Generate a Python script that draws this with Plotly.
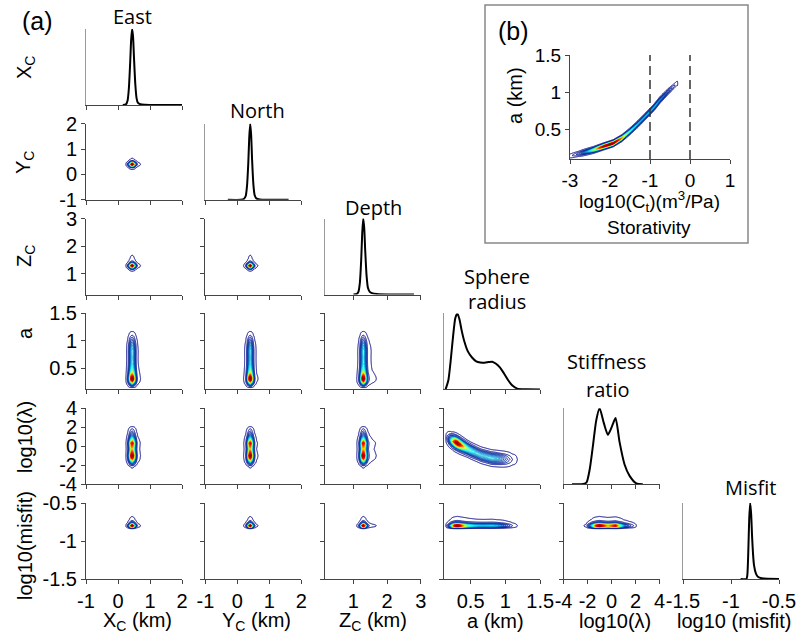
import numpy as np
import plotly.graph_objects as go

# ---------------- values ----------------
# marginal posterior densities (normalised to peak = 1)
east_x = [0.15, 0.25, 0.30, 0.34, 0.38, 0.41, 0.44, 0.47, 0.50, 0.54, 0.58, 0.62, 0.70, 0.85, 1.2, 2.0]
east_p = [0, 0.01, 0.06, 0.22, 0.55, 0.85, 1.0, 0.9, 0.62, 0.28, 0.09, 0.03, 0.01, 0.004, 0, 0]

north_x = [-0.3, 0.1, 0.2, 0.26, 0.30, 0.34, 0.37, 0.40, 0.43, 0.46, 0.50, 0.54, 0.60, 0.7, 1.0, 1.6]
north_p = [0, 0, 0.01, 0.05, 0.18, 0.48, 0.82, 1.0, 0.85, 0.52, 0.2, 0.06, 0.015, 0.003, 0, 0]

depth_x = [1.0, 1.1, 1.15, 1.19, 1.23, 1.26, 1.29, 1.32, 1.35, 1.39, 1.43, 1.48, 1.55, 1.7, 2.0, 2.8]
depth_p = [0, 0.01, 0.04, 0.15, 0.45, 0.8, 1.0, 0.88, 0.58, 0.25, 0.09, 0.04, 0.02, 0.008, 0.002, 0]

radius_x = [0.14, 0.18, 0.21, 0.25, 0.28, 0.31, 0.34, 0.37, 0.41, 0.46, 0.52, 0.58, 0.64, 0.70,
            0.76, 0.81, 0.86, 0.92, 0.98, 1.04, 1.10, 1.17, 1.3, 1.5]
radius_p = [0, 0.12, 0.35, 0.72, 0.94, 1.0, 0.92, 0.78, 0.63, 0.5, 0.42, 0.37, 0.355, 0.35,
            0.36, 0.365, 0.34, 0.29, 0.21, 0.12, 0.05, 0.01, 0.002, 0]

stiff_x = [-3.3, -2.5, -2.1, -1.83, -1.56, -1.28, -1.0, -0.64, -0.31, 0.03, 0.33, 0.67, 1.08, 1.5, 2.06, 2.6]
stiff_p = [0, 0, 0.02, 0.19, 0.5, 0.84, 1.0, 0.8, 0.65, 0.76, 0.87, 0.55, 0.26, 0.11, 0.01, 0]

misfit_x = [-0.9, -0.84, -0.83, -0.82, -0.81, -0.80, -0.79, -0.78, -0.77, -0.76, -0.74, -0.72, -0.68, -0.5]
misfit_p = [0, 0, 0.05, 0.35, 0.8, 1.0, 0.85, 0.55, 0.32, 0.18, 0.07, 0.03, 0.01, 0]

# a - log10(lambda) trade-off: centre of the ridge versus a, and its cross profile
ridge_a = [0.12, 0.17, 0.24, 0.30, 0.40, 0.50, 0.65, 0.80, 0.95, 1.10, 1.2]
ridge_lam = [0.9, 0.8, 0.55, 0.35, -0.05, -0.45, -0.95, -1.25, -1.35, -1.4, -1.4]
ridge_off = [-1.2, -0.9, -0.6, -0.3, 0.0, 0.3, 0.6, 0.9, 1.2]
ridge_prof = [0, 0.02, 0.17, 0.64, 1.0, 0.64, 0.17, 0.02, 0]

# inset (b): a versus log10(Ct)
stor_x = [-3.0, -2.7, -2.42, -2.15, -1.92, -1.7, -1.5, -1.3, -1.08, -0.9, -0.75, -0.55, -0.33]
stor_a = [0.15, 0.19, 0.23, 0.28, 0.32, 0.39, 0.48, 0.58, 0.70, 0.80, 0.90, 1.01, 1.12]
band_off = [-0.05, -0.033, -0.016, 0.0, 0.016, 0.033, 0.05]
band_prof = [0, 0.1, 0.6, 1.0, 0.6, 0.1, 0]
stor_bounds = [-1, 0]

var_names = ["xc", "yc", "zc", "a", "lam", "mf"]
marg = {"xc": (east_x, east_p), "yc": (north_x, north_p), "zc": (depth_x, depth_p),
        "a": (radius_x, radius_p), "lam": (stiff_x, stiff_p), "mf": (misfit_x, misfit_p)}
x_rng = {"xc": [-1, 2], "yc": [-1, 2], "zc": [0.15, 3], "a": [0.12, 1.5], "lam": [-4, 4], "mf": [-1.5, -0.5]}
y_rng = {"xc": [-1, 2], "yc": [-1, 2], "zc": [0.25, 3], "a": [0.11, 1.5], "lam": [-4, 4], "mf": [-1.5, -0.5]}
tick_v = {"xc": [-1, 0, 1, 2], "yc": [-1, 0, 1, 2], "zc": [1, 2, 3], "a": [0.5, 1, 1.5],
          "lam": [-4, -2, 0, 2, 4], "mf": [-1.5, -1, -0.5]}
tick_t = {"xc": ["-1", "0", "1", "2"], "yc": ["-1", "0", "1", "2"], "zc": ["1", "2", "3"],
          "a": ["0.5", "1", "1.5"], "lam": ["-4", "-2", "0", "2", "4"], "mf": ["-1.5", "-1", "-0.5"]}

col_titles = ["East", "North", "Depth", "Sphere", "radius", "Stiffness", "ratio", "Misfit"]
row_labels = ["X<sub>C</sub>", "Y<sub>C</sub>", "Z<sub>C</sub>", "a", "log10(λ)", "log10(misfit)"]
x_labels = ["X<sub>C</sub> (km)", "Y<sub>C</sub> (km)", "Z<sub>C</sub> (km)", "a (km)", "log10(λ)", "log10 (misfit)"]

# ---------------- layout geometry (pixels) ----------------
W, H = 798, 642
PW, PH = 96, 76
col_left = [86 + 119.4 * i for i in range(6)]
row_top = [29 + 94.8 * j for j in range(6)]
TICKF = dict(family="Liberation Sans, Arial, sans-serif", size=20, color="black")
INSF = dict(family="Liberation Sans, Arial, sans-serif", size=19, color="black")
TITF = "Open Sans, Noto Sans, sans-serif"
AXC = "#444"

fig = go.Figure()
layout = {}


def xr(k):
    return "x" if k == 1 else f"x{k}"


def yr(k):
    return "y" if k == 1 else f"y{k}"


def xk(k):
    return "xaxis" if k == 1 else f"xaxis{k}"


def yk(k):
    return "yaxis" if k == 1 else f"yaxis{k}"


def grid(v, rng, n=220):
    g = np.linspace(rng[0], rng[1], n)
    vx, vp = marg[v]
    return g, np.interp(g, vx, vp, left=0, right=0)


contour_style = dict(
    contours=dict(coloring="lines", start=0.01, end=0.97, size=0.04, showlabels=False),
    colorscale="Jet", zmin=0, zmax=1, zauto=False, showscale=False,
    line=dict(width=1), hoverinfo="skip")

k = 0
for r in range(6):
    for c in range(r + 1):
        k += 1
        vx_name = var_names[c]
        vy_name = var_names[r]
        l = col_left[c]
        t = row_top[r]
        xa = dict(domain=[l / W, (l + PW) / W], range=x_rng[vx_name], anchor=yr(k),
                  showline=True, linecolor=AXC, linewidth=1, ticks="outside", ticklen=4,
                  tickwidth=1, tickcolor=AXC, tickvals=tick_v[vx_name], ticktext=tick_t[vx_name],
                  showticklabels=(r == 5), tickfont=TICKF, showgrid=False, zeroline=False,
                  automargin=False)
        ya = dict(domain=[1 - (t + PH) / H, 1 - t / H], anchor=xr(k), showgrid=False,
                  zeroline=False, tickfont=TICKF, automargin=False)
        if r == c:
            ya.update(range=[0, 1.0], showline=True, linecolor="#999", linewidth=1,
                      ticks="", showticklabels=False)
            mx, mp = marg[vx_name]
            fig.add_trace(go.Scatter(x=mx, y=mp, mode="lines", xaxis=xr(k), yaxis=yr(k),
                                     line=dict(color="black", width=2, shape="spline", smoothing=0.6),
                                     cliponaxis=False, hoverinfo="skip", showlegend=False))
        else:
            ya.update(range=y_rng[vy_name], showline=True, linecolor=AXC, linewidth=1,
                      ticks="outside", ticklen=4, tickwidth=1, tickcolor=AXC,
                      tickvals=tick_v[vy_name], ticktext=tick_t[vy_name],
                      showticklabels=(c == 0))
            gx, px = grid(vx_name, x_rng[vx_name])
            gy, py = grid(vy_name, y_rng[vy_name])
            if vx_name == "a" and vy_name == "lam":
                centre = np.interp(gx, ridge_a, ridge_lam)
                z = px[None, :] * np.interp(gy[:, None] - centre[None, :], ridge_off, ridge_prof,
                                            left=0, right=0)
            else:
                z = np.outer(py, px)
            z = z / z.max()
            fig.add_trace(go.Contour(x=gx, y=gy, z=z, xaxis=xr(k), yaxis=yr(k), **contour_style))
        layout[xk(k)] = xa
        layout[yk(k)] = ya

# ---------------- inset (b) ----------------
k += 1
IL, IR, IT, IB = 570, 730, 55, 159
ins_xr = [-3, 1]
ins_yr = [0.11, 1.5]
layout[xk(k)] = dict(domain=[IL / W, IR / W], range=ins_xr, anchor=yr(k), showline=True,
                     linecolor=AXC, ticks="outside", ticklen=4, tickcolor=AXC,
                     tickvals=[-3, -2, -1, 0, 1], ticktext=["-3", "-2", "-1", "0", "1"],
                     tickfont=INSF, showgrid=False, zeroline=False, automargin=False)
layout[yk(k)] = dict(domain=[1 - IB / H, 1 - IT / H], range=ins_yr, anchor=xr(k), showline=True,
                     linecolor=AXC, ticks="outside", ticklen=4, tickcolor=AXC,
                     tickvals=[0.5, 1, 1.5], ticktext=["0.5", "1", "1.5"],
                     tickfont=INSF, showgrid=False, zeroline=False, automargin=False)
gx = np.linspace(ins_xr[0], -0.2, 320)
gy = np.linspace(ins_yr[0], 1.3, 320)
curve = np.interp(gx, stor_x, stor_a)
along = np.interp(curve, radius_x, radius_p) * (gx <= stor_x[-1] + 0.02)
z = along[None, :] * np.interp(gy[:, None] - curve[None, :], band_off, band_prof, left=0, right=0)
z = z / z.max()
fig.add_trace(go.Contour(x=gx, y=gy, z=z, xaxis=xr(k), yaxis=yr(k), **contour_style))
shapes = []
for b in stor_bounds:
    shapes.append(dict(type="line", xref=xr(k), yref=yr(k), x0=b, x1=b, y0=ins_yr[0], y1=1.5,
                       line=dict(color="#333", width=1.5, dash="9px,5px")))
shapes.append(dict(type="rect", xref="paper", yref="paper", x0=485 / W, x1=748 / W,
                   y0=1 - 243 / H, y1=1 - 5 / H, line=dict(color="#888", width=1.5)))

# ---------------- text ----------------
ann = []


def add_text(text, x, y, size=20, family="Liberation Sans, Arial, sans-serif", angle=0):
    ann.append(dict(text=text, x=x / W, y=1 - y / H, xref="paper", yref="paper", showarrow=False,
                    xanchor="center", yanchor="middle", textangle=angle,
                    font=dict(family=family, size=size, color="black")))


add_text("(a)", 37, 21, size=25)
add_text("(b)", 513, 31, size=25)
title_pos = [(132, 16), (257, 111), (373, 207), (497, 276), (497, 301), (606, 361), (608, 389), (750, 487)]
for txt, (x, y) in zip(col_titles, title_pos):
    add_text(txt, x, y, size=20, family=TITF)
row_pos = [68, 163, 256, 333, 437, 546]
for txt, y in zip(row_labels, row_pos):
    add_text(txt, 25, y, angle=-90)
xlab_pos = [137, 256, 373, 495, 615, 734]
for txt, x in zip(x_labels, xlab_pos):
    add_text(txt, x, 621)
add_text("a (km)", 515, 96, angle=-90)
add_text("log10(C<sub>t</sub>)(m<sup>3</sup>/Pa)", 649, 201, size=19)
add_text("Storativity", 649, 227, size=19)

fig.update_layout(width=W, height=H, margin=dict(l=0, r=0, t=0, b=0, pad=0, autoexpand=False),
                  autosize=False, paper_bgcolor="white", plot_bgcolor="white", showlegend=False,
                  annotations=ann, shapes=shapes, **layout)
fig.write_html("out.html")
